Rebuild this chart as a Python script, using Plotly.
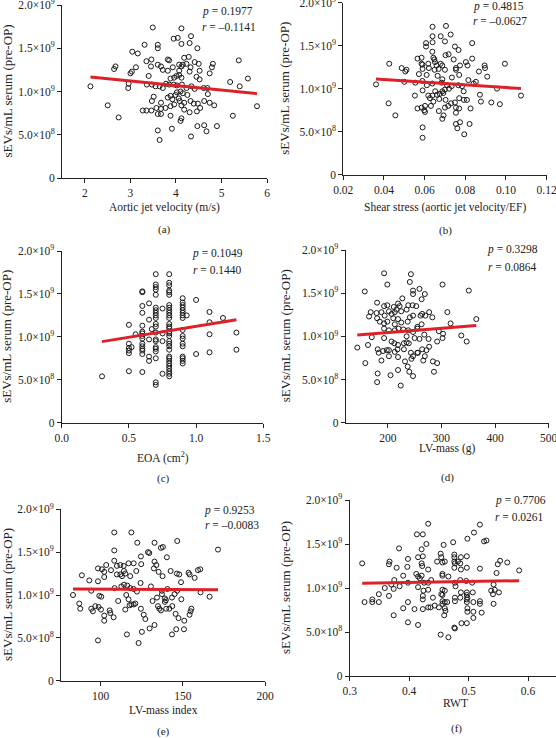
import plotly.graph_objects as go

# ---------------- data (y in units of 1e9 sEVs/mL serum) ----------------
# (a) Aortic jet velocity (m/s)
x_a = [3.49,4.12, 3.95,4.04,4.33, 3.31,3.60,3.60,4.12,4.30,4.47, 3.04,3.16,
       3.46,3.35,3.82,3.85,4.18,4.28,4.41,4.50,4.81,4.79,5.38,
       2.67,2.64,3.12,3.03,3.00,3.45,3.60,3.67,3.71,3.82,3.93,4.07,4.12,4.15,4.23,4.32,4.07,4.30,4.52,4.74,
       3.40,3.88,3.96,4.01,4.07,4.12,4.45,4.52,5.58,5.19,5.40,
       2.12,2.96,2.95,3.36,3.47,3.55,3.64,3.71,3.78,3.85,3.95,4.02,4.13,4.23,4.34,4.41,4.61,4.69,4.70,
       3.51,3.47,3.67,3.82,3.88,3.92,3.99,4.02,4.10,4.15,4.25,4.06,4.08,4.18,4.32,4.39,4.48,4.62,4.74,4.84,
       2.50,3.27,3.35,3.46,3.57,3.67,3.77,3.88,3.96,4.12,4.18,4.30,4.46,4.53,
       2.74,3.60,3.67,3.88,4.12,4.10,5.25,5.78, 3.91,3.60,4.47,4.62,4.67,4.90, 3.64,4.33]
y_a = [1.74,1.73, 1.61,1.62,1.64, 1.54,1.54,1.50,1.55,1.56,1.50, 1.46,1.44,
       1.37,1.35,1.37,1.36,1.39,1.40,1.34,1.32,1.32,1.28,1.36,
       1.29,1.26,1.28,1.23,1.21,1.29,1.31,1.29,1.25,1.24,1.28,1.31,1.29,1.31,1.32,1.28,1.24,1.23,1.24,1.21,
       1.18,1.15,1.16,1.18,1.19,1.16,1.17,1.14,1.15,1.11,1.06,
       1.06,1.09,1.04,1.08,1.08,1.06,1.06,1.04,1.09,1.08,1.08,1.07,1.08,1.04,1.06,1.03,1.04,1.04,0.97,
       0.94,0.89,0.87,0.93,0.95,0.91,0.96,0.99,1.00,0.98,0.96,0.92,0.89,0.87,0.89,0.86,0.86,0.89,0.87,0.84,
       0.84,0.78,0.78,0.78,0.81,0.80,0.81,0.83,0.85,0.84,0.79,0.76,0.77,0.81,
       0.70,0.74,0.74,0.72,0.69,0.66,0.72,0.83, 0.57,0.55,0.60,0.61,0.54,0.60, 0.44,0.48]
fit_a = (1.281, -0.0529)   # (intercept, slope)

# (b) Shear stress (aortic jet velocity/EF)
x_b = [0.0639,0.0705, 0.0639,0.0679,0.0728,0.0700, 0.0607,0.0607,0.0639,0.0834,
       0.0749,0.0767,0.0638,
       0.0565,0.0585,0.0643,0.0648,0.0703,0.0718,0.0743,0.0834,
       0.0426,0.0487,0.0511,0.0505,0.0585,0.0589,0.0618,0.0651,0.0659,0.0679,0.0687,0.0803,0.0811,0.0774,0.0895,0.0897,0.0995,
       0.0590,0.0621,0.0649,0.0669,0.0700,0.0754,0.0754,0.0867,0.0908,
       0.0572,0.0610,0.0664,0.0687,0.0734,0.0770,
       0.0361,0.0500,0.0554,0.0589,0.0611,0.0638,0.0684,0.0710,0.0733,0.0766,0.0784,0.0815,0.0852,0.0841,0.0956,
       0.0652,0.0687,0.0700,0.0720,0.0792,
       0.0552,0.0590,0.0618,0.0638,0.0661,0.0675,0.0692,0.0626,0.0643,0.0672,0.0703,0.0730,0.0749,0.0770,0.0793,0.0808,0.0872,0.0877,0.0928,0.0970,0.1074,
       0.0423,0.0565,0.0585,0.0602,0.0598,0.0631,0.0670,0.0700,0.0716,0.0754,0.0770,0.0754,0.0826,
       0.0456,0.0602,0.0693,0.0687, 0.0590,0.0754,0.0761,0.0774,0.0821, 0.0590,0.0795]
y_b = [1.72,1.73, 1.61,1.61,1.63,1.55, 1.53,1.49,1.54,1.53,
       1.49,1.45,1.43,
       1.35,1.36,1.36,1.34,1.39,1.40,1.34,1.35,
       1.29,1.24,1.22,1.20,1.29,1.28,1.29,1.31,1.27,1.29,1.27,1.31,1.27,1.27,1.27,1.24,1.29,
       1.23,1.24,1.22,1.23,1.22,1.24,1.22,1.20,1.14,
       1.17,1.16,1.15,1.11,1.13,1.16,
       1.05,1.08,1.07,1.09,1.04,1.06,1.07,1.04,1.03,1.04,1.03,1.10,1.08,1.06,1.00,
       0.97,0.97,0.99,1.00,0.97,
       0.92,0.98,0.92,0.92,0.93,0.94,0.95,0.89,0.85,0.88,0.87,0.83,0.84,0.89,0.87,0.87,0.93,0.85,0.84,0.82,0.92,
       0.83,0.77,0.78,0.80,0.75,0.80,0.74,0.78,0.80,0.78,0.77,0.72,0.77,
       0.69,0.73,0.69,0.65, 0.55,0.59,0.54,0.61,0.59, 0.43,0.47]
fit_b = (1.167, -1.53)

# (c) EOA (cm2): measured values grouped by EOA level
eoa_levels = [0.3, 0.5, 0.52, 0.55, 0.6, 0.65, 0.67, 0.7, 0.75, 0.8, 0.9, 0.93, 1.0, 1.1, 1.2, 1.3]
eoa_sevs = [
    [0.54],
    [1.14, 0.92, 0.87, 0.84, 0.81, 0.60],
    [0.88],
    [1.03],
    [1.53, 1.52, 1.36, 1.28, 1.13, 1.06, 1.04, 1.01, 0.98, 0.92, 0.89, 0.86, 0.84, 0.80, 0.59],
    [1.39, 1.20, 0.97, 0.77, 0.72],
    [1.09],
    [1.73, 1.61, 1.58, 1.55, 1.49, 1.34, 1.31, 1.28, 1.25, 1.22, 1.15, 1.12, 1.05, 0.97, 0.95, 0.88, 0.86, 0.83, 0.75, 0.47, 0.44],
    [1.33, 1.04, 0.95, 0.57],
    [1.73, 1.63, 1.60, 1.54, 1.52, 1.49, 1.37, 1.34, 1.31, 1.28, 1.25, 1.22, 1.15, 1.12, 1.10, 1.06, 1.04, 1.01,
     0.95, 0.92, 0.89, 0.85, 0.77, 0.75, 0.72, 0.69, 0.66, 0.63, 0.60, 0.57, 0.54],
    [1.45, 1.40, 1.37, 1.34, 1.31, 1.28, 1.25, 1.22, 1.08, 1.01, 0.98, 0.92, 0.89, 0.77, 0.75, 0.72, 0.69],
    [1.25],
    [1.43, 0.80],
    [1.29, 1.17, 1.03, 0.82],
    [1.22],
    [1.05, 0.85],
]
x_c = [lv for lv, ys in zip(eoa_levels, eoa_sevs) for _ in ys]
y_c = [v for ys in eoa_sevs for v in ys]
fit_c = (0.868, 0.2545)

# (d) LV-mass (g)
x_d = [193,243, 199,241,302, 157,247,259,247,269,351, 227,263,
       180,193,199,211,219,222,238,246,253,
       168,165,179,188,194,202,207,213,216,225,235,241,247,261,264,270,277,283,311,365,
       180,185,193,199,210,213,219,225,237,255,263,317,
       193,202,213,220,229,238,247,255,268,295,303,337,
       170,193,235,250,259,276,292,302,347,
       163,207,212,219,230,235,239,143,
       181,183,191,198,202,213,218,230,243,247,256,264,272,277,
       188,202,219,232,244,255,266,269,284,292,158,
       181,205,219,237,240,247,286, 180,224]
y_d = [1.73,1.72, 1.60,1.63,1.60, 1.52,1.53,1.55,1.49,1.49,1.53, 1.44,1.43,
       1.39,1.35,1.36,1.34,1.38,1.35,1.36,1.36,1.35,
       1.28,1.23,1.27,1.28,1.24,1.29,1.26,1.28,1.31,1.29,1.31,1.22,1.24,1.24,1.26,1.24,1.28,1.22,1.28,1.20,
       1.21,1.17,1.15,1.17,1.21,1.14,1.20,1.16,1.17,1.11,1.14,1.15,
       1.09,1.07,1.07,1.09,1.08,1.07,1.05,1.09,1.02,1.06,1.03,1.01,
       0.99,0.98,1.00,0.98,0.97,0.97,0.94,0.98,0.94,
       0.90,0.94,0.92,0.90,0.92,0.93,0.92,0.87,
       0.85,0.81,0.83,0.84,0.84,0.82,0.85,0.85,0.81,0.77,0.81,0.85,0.84,0.88,
       0.72,0.77,0.76,0.71,0.74,0.81,0.72,0.77,0.71,0.69,0.69,
       0.57,0.55,0.61,0.65,0.59,0.54,0.59, 0.47,0.43]
fit_d = (0.945, 0.000498)

# (e) LV-mass index
x_e = [108.3,118.7, 108.3,122.3,132.8,136.7,137.9,146.6,171.4, 124.5,128.8,129.6,140.3,
       108.3,103.4,98.4,100.8,102.2,106.3,109.9,112.0,114.0,117.0,120.1,124.7,132.8,133.9,
       88.6,93.1,98.4,102.2,109.9,112.0,113.0,114.2,115.0,118.0,121.7,132.4,135.3,137.7,142.6,146.4,147.8,153.5,154.1,157.2,159.2,160.6,148.9,
       94.3,112.6,114.2,116.2,118.0,120.1,122.1,124.3,130.6,137.3,140.6,146.6,160.8,166.3,108.5,
       83.2,99.2,100.4,110.7,115.6,117.0,118.7,120.1,121.1,131.6,134.3,137.3,139.1,139.1,139.7,143.4,145.0,149.1,
       87.0,87.6,94.3,95.3,96.8,98.8,100.2,102.2,105.5,105.9,107.9,115.0,117.6,124.5,126.2,127.2,134.9,135.7,136.7,139.9,141.8,143.6,145.6,147.4,150.9,154.1,155.2,154.7,
       102.2,125.1,129.8,132.8,143.4,146.0,150.7,116.0, 98.4,123.1]
y_e = [1.73,1.73, 1.52,1.61,1.61,1.55,1.56,1.63,1.53, 1.45,1.50,1.49,1.44,
       1.40,1.35,1.31,1.30,1.27,1.29,1.34,1.35,1.34,1.37,1.37,1.36,1.39,1.35,
       1.23,1.17,1.16,1.21,1.24,1.24,1.22,1.28,1.25,1.22,1.28,1.31,1.27,1.22,1.28,1.25,1.24,1.26,1.24,1.20,1.29,1.30,1.15,
       1.05,1.10,1.12,1.11,1.08,1.07,1.04,1.14,1.10,1.05,1.07,1.05,1.03,0.98,1.08,
       1.00,0.99,0.98,0.93,1.00,0.95,0.89,0.89,0.90,0.93,0.97,1.01,0.96,0.92,0.94,0.97,1.01,0.95,
       0.90,0.84,0.84,0.81,0.87,0.86,0.83,0.76,0.82,0.79,0.74,0.83,0.88,0.84,0.77,0.72,0.87,0.84,0.82,0.84,0.84,0.87,0.78,0.73,0.70,0.77,0.84,0.81,
       0.70,0.57,0.61,0.65,0.54,0.60,0.60,0.54, 0.47,0.44]
fit_e = (1.0775, -0.00009)

# (f) RWT
x_f = [0.432,0.519, 0.413,0.423,0.509,0.498,0.526,0.530, 0.383,0.429,0.458,0.474,0.421,
       0.415,0.423,0.398,0.453,0.454,0.476,0.476,0.487,0.497,0.553,
       0.321,0.367,0.366,0.379,0.397,0.421,0.422,0.432,0.447,0.456,0.460,0.476,0.477,0.482,0.476,0.486,0.487,0.497,0.519,0.549,0.565,0.547,
       0.390,0.412,0.415,0.418,0.421,0.425,0.432,0.437,0.456,0.456,0.466,0.477,0.486,0.496,0.506,0.542,0.585,0.544,
       0.375,0.384,0.370,0.374,0.359,0.349,0.366,0.398,0.415,0.424,0.432,0.456,0.460,0.454,0.478,0.487,0.497,0.497,0.507,0.498,0.538,0.541,0.551,
       0.325,0.338,0.338,0.349,0.398,0.423,0.423,0.440,0.432,0.443,0.456,0.456,0.460,0.464,0.456,0.477,0.477,0.486,0.497,0.497,0.508,0.519,0.519,0.542,
       0.374,0.390,0.409,0.436,0.450,0.460,0.461,0.459,0.498,0.498,0.508,0.508,0.522,0.423,
       0.398,0.415,0.488,0.497,0.476,0.477, 0.453,0.466]
y_f = [1.73,1.72, 1.61,1.61,1.63,1.56,1.53,1.54, 1.45,1.50,1.49,1.52,1.44,
       1.35,1.36,1.33,1.39,1.35,1.38,1.35,1.35,1.36,1.31,
       1.28,1.30,1.27,1.23,1.24,1.28,1.25,1.21,1.30,1.29,1.30,1.30,1.28,1.30,1.23,1.28,1.21,1.23,1.22,1.27,1.29,1.17,
       1.14,1.16,1.13,1.11,1.14,1.06,1.06,1.09,1.16,1.14,1.13,1.06,1.09,1.08,1.06,1.04,1.20,0.98,
       1.09,1.02,1.04,0.99,1.00,0.93,0.91,1.06,1.01,0.97,0.98,0.98,0.97,0.93,1.02,0.95,0.95,0.92,0.95,0.89,0.97,0.93,0.95,
       0.84,0.87,0.84,0.84,0.84,0.91,0.87,0.89,0.78,0.80,0.92,0.85,0.84,0.84,0.82,0.89,0.85,0.89,0.87,0.84,0.84,0.85,0.82,0.82,
       0.69,0.77,0.76,0.78,0.78,0.77,0.74,0.69,0.77,0.73,0.73,0.66,0.72,0.76,
       0.61,0.58,0.60,0.60,0.55,0.54, 0.47,0.44]
fit_f = (1.016, 0.114)

y_tickvals = [0, 0.5, 1.0, 1.5, 2.0]
y_ticktext = ["0", "5.0×10<sup>8</sup>", "1.0×10<sup>9</sup>", "1.5×10<sup>9</sup>", "2.0×10<sup>9</sup>"]
y_title = "sEVs/mL serum (pre-OP)"

stats = {
    "a": ("0.1977", "–0.1141"), "b": ("0.4815", "–0.0627"), "c": ("0.1049", "0.1440"),
    "d": ("0.3298", "0.0864"), "e": ("0.9253", "–0.0083"), "f": ("0.7706", "0.0261"),
}

# ---------------- layout ----------------
W, H = 556, 738
FONT = "Liberation Serif"
TXT = "#222222"

panels = [
    dict(k="a", x=x_a, y=y_a, fit=fit_a, xr=[1.495, 6], xt=[2, 3, 4, 5, 6], xl=["2", "3", "4", "5", "6"],
         box=(62, 267, 178, 5), title="Aortic jet velocity (m/s)", tpos=(164.5, 208), lpos=(164, 229),
         ppos=(200, 11), rpos=(200, 27), ytx=7),
    dict(k="b", x=x_b, y=y_b, fit=fit_b, xr=[0.02, 0.12], xt=[0.02, 0.04, 0.06, 0.08, 0.10, 0.12],
         xl=["0.02", "0.04", "0.06", "0.08", "0.10", "0.12"],
         box=(343.3, 546.6, 174.7, 2.7), title="Shear stress (aortic jet velocity/EF)", tpos=(445, 208),
         lpos=(445, 230), ppos=(471, 6), rpos=(471, 21), ytx=285),
    dict(k="c", x=x_c, y=y_c, fit=fit_c, xr=[0, 1.5], xt=[0, 0.5, 1.0, 1.5], xl=["0.0", "0.5", "1.0", "1.5"],
         box=(61.7, 263.3, 422.7, 251), title="EOA (cm<sup>2</sup>)", tpos=(162.5, 457), lpos=(163, 478),
         ppos=(190, 253), rpos=(191, 270), ytx=7),
    dict(k="d", x=x_d, y=y_d, fit=fit_d, xr=[121.4, 500], xt=[200, 300, 400, 500], xl=["200", "300", "400", "500"],
         box=(345.7, 548.7, 422.7, 250), title="LV-mass (g)", tpos=(447, 448), lpos=(447, 477),
         ppos=(485, 249), rpos=(486, 267), ytx=285),
    dict(k="e", x=x_e, y=y_e, fit=fit_e, xr=[75.9, 200], xt=[100, 150, 200], xl=["100", "150", "200"],
         box=(61, 265, 680.7, 509.3), title="LV-mass index", tpos=(163, 710), lpos=(163, 731),
         ppos=(202, 510), rpos=(203, 525), ytx=7),
    dict(k="f", x=x_f, y=y_f, fit=fit_f, xr=[0.3, 0.647], xt=[0.3, 0.4, 0.5, 0.6], xl=["0.3", "0.4", "0.5", "0.6"],
         box=(349.7, 556, 676, 500), title="RWT", tpos=(455, 703), lpos=(456, 728),
         ppos=(493, 500), rpos=(493, 517), ytx=285),
]

fig = go.Figure()
annotations = []
layout = dict(
    width=W, height=H, margin=dict(l=0, r=0, t=0, b=0, autoexpand=False),
    paper_bgcolor="white", plot_bgcolor="white", showlegend=False, hovermode=False,
    font=dict(family=FONT, size=11, color=TXT),
)


def px2paper(px, py):
    return px / W, 1 - py / H


for i, p in enumerate(panels, start=1):
    xa = "x" if i == 1 else f"x{i}"
    ya = "y" if i == 1 else f"y{i}"
    x0, x1, yb, yt = p["box"]
    fig.add_trace(go.Scatter(
        x=p["x"], y=p["y"], mode="markers", xaxis=xa, yaxis=ya,
        marker=dict(symbol="circle-open", size=5, color="#1a1a1a", line=dict(width=1, color="#1a1a1a")),
        cliponaxis=False,
    ))
    b0, b1 = p["fit"]
    lx = [min(p["x"]), max(p["x"])]
    ly = [b0 + b1 * v for v in lx]
    fig.add_trace(go.Scatter(x=lx, y=ly, mode="lines", xaxis=xa, yaxis=ya,
                             line=dict(color="#dc2228", width=3)))
    common = dict(showline=True, linecolor="#222222", linewidth=1, ticks="outside", ticklen=4,
                  tickwidth=1, tickcolor="#222222", showgrid=False, zeroline=False, automargin=False,
                  ticklabeloverflow="allow",
                  tickfont=dict(family=FONT, size=11.5, color=TXT))
    layout["xaxis" if i == 1 else f"xaxis{i}"] = dict(
        common, domain=[x0 / W, x1 / W], range=p["xr"], tickmode="array", tickvals=p["xt"],
        ticktext=p["xl"], anchor=ya)
    layout["yaxis" if i == 1 else f"yaxis{i}"] = dict(
        common, domain=[1 - yb / H, 1 - yt / H], range=[0, 2.0], tickmode="array",
        tickvals=y_tickvals, ticktext=y_ticktext, anchor=xa)

    pv, rv = stats[p["k"]]
    for txt, pos in ((f"<i>p</i> = {pv}", p["ppos"]), (f"<i>r</i> = {rv}", p["rpos"])):
        ax, ay = px2paper(*pos)
        annotations.append(dict(text=txt, x=ax, y=ay, xref="paper", yref="paper", xanchor="left",
                                yanchor="middle", showarrow=False, font=dict(family=FONT, size=11.5, color=TXT)))
    ax, ay = px2paper(*p["tpos"])
    annotations.append(dict(text=p["title"], x=ax, y=ay, xref="paper", yref="paper", xanchor="center",
                            yanchor="middle", showarrow=False, font=dict(family=FONT, size=11.5, color=TXT)))
    ax, ay = px2paper(*p["lpos"])
    annotations.append(dict(text=f"({p['k']})", x=ax, y=ay, xref="paper", yref="paper", xanchor="center",
                            yanchor="middle", showarrow=False, font=dict(family=FONT, size=11, color=TXT)))
    ax, ay = px2paper(p["ytx"], (yb + yt) / 2)
    annotations.append(dict(text=y_title, x=ax, y=ay, xref="paper", yref="paper", xanchor="center",
                            yanchor="middle", textangle=-90, showarrow=False,
                            font=dict(family=FONT, size=13, color=TXT)))

layout["annotations"] = annotations
fig.update_layout(**layout)
fig.write_html("out.html", config={"displayModeBar": False, "staticPlot": True},
               post_script="document.body.style.margin='0';document.body.style.padding='0';"
                           "document.body.style.overflow='hidden';")
